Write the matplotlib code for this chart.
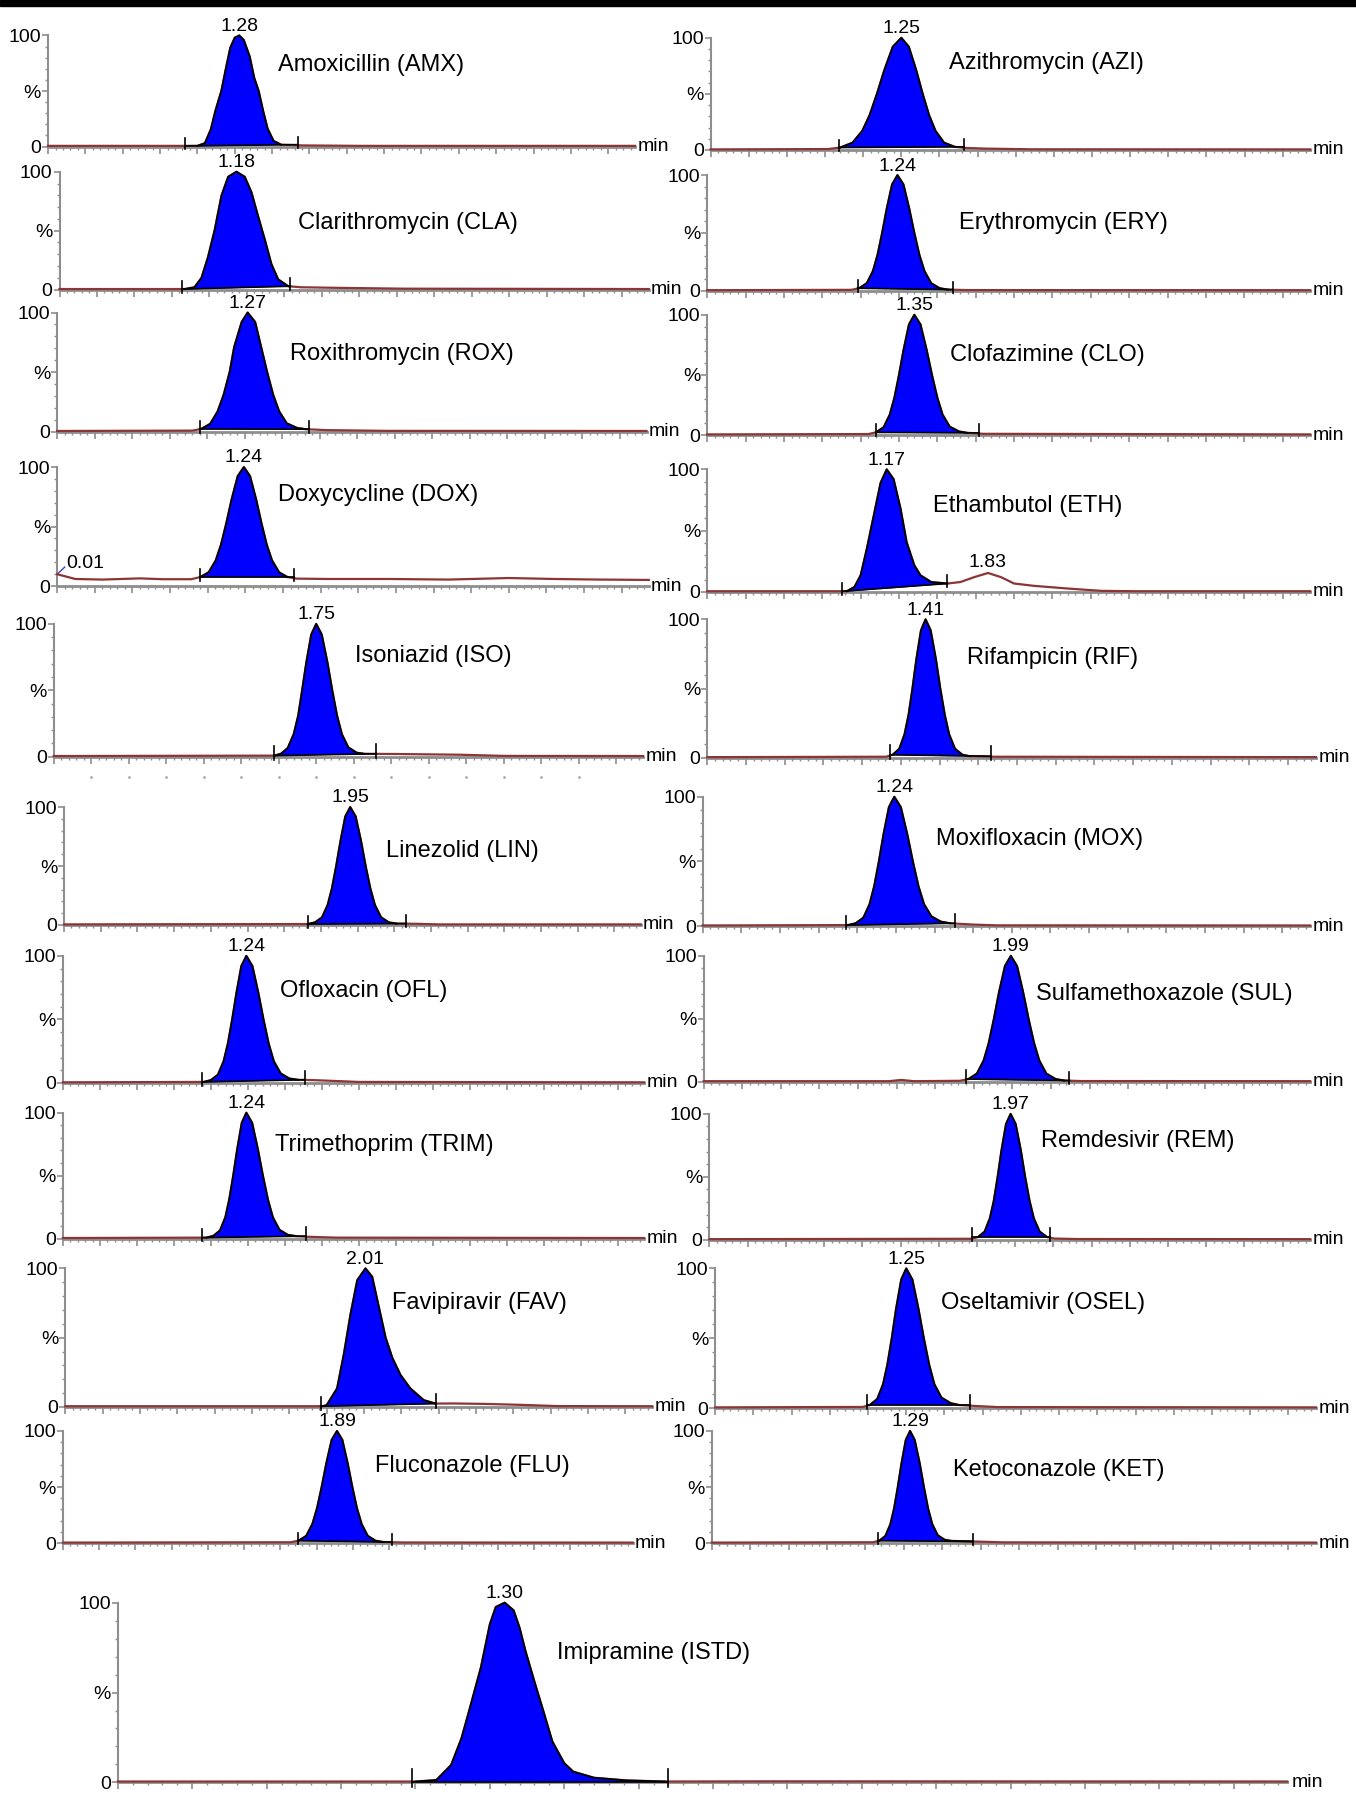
import matplotlib.pyplot as plt
from matplotlib.ticker import MultipleLocator
import numpy as np

plt.rcParams['font.family'] = ['Liberation Sans', 'DejaVu Sans']

# panel order: left / right pairs row by row, internal standard last
names = ['Amoxicillin (AMX)', 'Azithromycin (AZI)', 'Clarithromycin (CLA)', 'Erythromycin (ERY)',
         'Roxithromycin (ROX)', 'Clofazimine (CLO)', 'Doxycycline (DOX)', 'Ethambutol (ETH)',
         'Isoniazid (ISO)', 'Rifampicin (RIF)', 'Linezolid (LIN)', 'Moxifloxacin (MOX)',
         'Ofloxacin (OFL)', 'Sulfamethoxazole (SUL)', 'Trimethoprim (TRIM)', 'Remdesivir (REM)',
         'Favipiravir (FAV)', 'Oseltamivir (OSEL)', 'Fluconazole (FLU)', 'Ketoconazole (KET)',
         'Imipramine (ISTD)']
rts = [1.28, 1.25, 1.18, 1.24, 1.27, 1.35, 1.24, 1.17, 1.75, 1.41, 1.95,
       1.24, 1.24, 1.99, 1.24, 1.97, 2.01, 1.25, 1.89, 1.29, 1.30]
integ_start = [0.92, 0.84, 0.82, 0.98, 0.95, 1.10, 0.95, 0.88, 1.47, 1.18, 1.66,
               0.93, 0.94, 1.70, 0.94, 1.72, 1.71, 0.99, 1.62, 1.08, 0.99]
integ_end = [1.67, 1.66, 1.54, 1.60, 1.68, 1.77, 1.57, 1.565, 2.15, 1.83, 2.33,
             1.63, 1.635, 2.37, 1.64, 2.23, 2.48, 1.67, 2.27, 1.70, 1.85]

# traces: time (min) and relative intensity (%)
amx_t = [0, 1.00, 1.05, 1.09, 1.12, 1.16, 1.19, 1.22, 1.25, 1.28, 1.31, 1.35, 1.38, 1.41, 1.44,
         1.47, 1.51, 1.56, 1.70, 2.10, 3.93]
amx_y = [0.6, 0.6, 3, 15.6, 32, 50, 70, 89, 98, 100, 96, 81, 62, 50, 32, 16, 5, 1.7, 1.0, 0.6, 0.6]
azi_t = [0, 0.77, 0.85, 0.93, 0.994, 1.042, 1.09, 1.138, 1.194, 1.25, 1.299, 1.348, 1.39, 1.432,
         1.474, 1.53, 1.60, 1.67, 1.80, 2.10, 3.93]
azi_y = [0.5, 0.8, 2.2, 6.5, 17, 31, 50, 71, 92, 100, 92, 71, 50, 31, 17, 6.5, 2.8, 1.8, 1.2, 0.6, 0.5]
cla_t = [0, 0.835, 0.90, 0.947, 0.99, 1.035, 1.08, 1.125, 1.18, 1.235, 1.28, 1.325, 1.37, 1.413,
         1.458, 1.525, 1.61, 1.86, 2.30, 3.93]
cla_y = [0.5, 0.5, 2, 10, 27.5, 50.7, 79.7, 95.7, 100, 95.7, 82.6, 62, 42, 21.7, 8.7, 2.9, 2, 1.5, 0.8, 0.5]
ery_t = [0, 0.94, 0.99, 1.04, 1.08, 1.11, 1.14, 1.17, 1.205, 1.24, 1.279, 1.317, 1.35, 1.383,
         1.416, 1.46, 1.515, 1.57, 1.70, 3.93]
ery_y = [0.5, 0.8, 2.2, 6.5, 17, 31, 50, 71, 92, 100, 92, 71, 50, 31, 17, 6.5, 2.2, 1.0, 0.6, 0.5]
rox_t = [0, 0.90, 0.96, 1.02, 1.07, 1.11, 1.15, 1.18, 1.23, 1.27, 1.32, 1.36, 1.40, 1.44, 1.48,
         1.53, 1.60, 1.66, 1.80, 2.20, 3.93]
rox_y = [0.5, 0.8, 2.2, 6.5, 17, 31, 50, 71, 92, 100, 92, 71, 50, 31, 17, 7, 3, 2, 1.2, 0.6, 0.5]
clo_t = [0, 1.05, 1.10, 1.15, 1.19, 1.22, 1.25, 1.28, 1.315, 1.35, 1.39, 1.43, 1.465, 1.50,
         1.534, 1.58, 1.64, 1.695, 1.80, 3.93]
clo_y = [0.5, 0.8, 2.2, 6.5, 17, 31, 50, 71, 92, 100, 92, 71, 50, 31, 17, 7, 3, 1.8, 1.0, 0.5]
dox_t = [0, 0.12, 0.30, 0.55, 0.70, 0.89, 0.95, 1.006, 1.053, 1.088, 1.123, 1.158, 1.199, 1.24,
         1.281, 1.322, 1.357, 1.392, 1.427, 1.474, 1.53, 1.59, 1.80, 2.20, 2.60, 3.00, 3.30,
         3.60, 3.93]
dox_y = [10, 6, 5.5, 6.5, 5.8, 5.8, 7.6, 11.6, 21.6, 34.8, 52.8, 72.6, 92.4, 100, 92.4, 72.6,
         52.8, 34.8, 21.6, 11.6, 7.6, 6.3, 6, 6, 5.5, 6.8, 6, 5.5, 5.2]
eth_t = [0, 0.91, 0.96, 1.00, 1.04, 1.085, 1.13, 1.17, 1.215, 1.26, 1.30, 1.35, 1.39, 1.46,
         1.565, 1.65, 1.74, 1.83, 1.915, 2.00, 2.13, 2.35, 2.57, 2.79, 3.93]
eth_y = [0.5, 0.5, 4, 13.5, 35, 62, 89, 100, 92, 68, 40.5, 21.6, 13.5, 8, 6.8, 8, 12, 15.4,
         12, 6.8, 4.9, 2.7, 0.8, 0.5, 0.5]
iso_t = [0, 1.47, 1.515, 1.56, 1.60, 1.63, 1.656, 1.684, 1.717, 1.75, 1.787, 1.825, 1.857, 1.889,
         1.921, 1.964, 2.02, 2.07, 2.30, 2.70, 3.00, 3.93]
iso_y = [0.5, 0.8, 2.2, 6.5, 17, 31, 50, 71, 92, 100, 92, 71, 50, 31, 17, 7, 3, 2.2, 2, 1.5, 0.6, 0.5]
rif_t = [0, 1.155, 1.197, 1.24, 1.274, 1.30, 1.325, 1.35, 1.38, 1.41, 1.443, 1.477, 1.505, 1.534,
         1.562, 1.60, 1.648, 1.695, 1.85, 3.93]
rif_y = [0.5, 0.8, 2.2, 6.5, 17, 31, 50, 71, 92, 100, 92, 71, 50, 31, 17, 6.5, 2.2, 1.2, 0.8, 0.5]
lin_t = [0, 1.66, 1.71, 1.758, 1.796, 1.825, 1.854, 1.883, 1.916, 1.95, 1.987, 2.024, 2.055,
         2.087, 2.118, 2.16, 2.213, 2.265, 2.40, 2.55, 3.93]
lin_y = [0.5, 0.8, 2.2, 6.5, 17, 31, 50, 71, 92, 100, 92, 71, 50, 31, 17, 6.5, 2.2, 1.2, 1.0, 0.5, 0.5]
mox_t = [0, 0.94, 0.99, 1.04, 1.08, 1.11, 1.14, 1.17, 1.205, 1.24, 1.282, 1.324, 1.36, 1.396,
         1.432, 1.48, 1.54, 1.60, 1.75, 1.90, 3.93]
mox_y = [0.5, 0.8, 2.2, 6.5, 17, 31, 50, 71, 92, 100, 92, 71, 50, 31, 17, 7.5, 3.5, 2.2, 1.2, 0.6, 0.5]
ofl_t = [0, 0.95, 1.00, 1.048, 1.086, 1.115, 1.144, 1.173, 1.206, 1.24, 1.281, 1.321, 1.356,
         1.391, 1.426, 1.472, 1.53, 1.59, 1.70, 1.85, 2.00, 3.93]
ofl_y = [0.5, 0.8, 2.2, 6.5, 17, 31, 50, 71, 92, 100, 92, 71, 50, 31, 17, 7.5, 3.5, 2.5, 2.2,
         1.5, 0.8, 0.5]
sul_t = [0, 1.20, 1.28, 1.36, 1.66, 1.715, 1.77, 1.814, 1.847, 1.88, 1.913, 1.952, 1.99, 2.03,
         2.07, 2.105, 2.14, 2.174, 2.22, 2.28, 2.335, 2.45, 3.93]
sul_y = [0.5, 0.5, 1.5, 0.5, 0.8, 2.2, 6.5, 17, 31, 50, 71, 92, 100, 92, 71, 50, 31, 17, 6.5,
         2.2, 1.0, 0.6, 0.5]
trim_t = [0, 0.97, 1.017, 1.062, 1.098, 1.124, 1.151, 1.178, 1.209, 1.24, 1.279, 1.318, 1.352,
          1.386, 1.419, 1.464, 1.52, 1.576, 1.65, 1.85, 3.93]
trim_y = [0.5, 0.8, 2.2, 6.5, 17, 31, 50, 71, 92, 100, 92, 71, 50, 31, 17, 7, 3, 2, 1.5, 0.8, 0.5]
rem_t = [0, 1.715, 1.757, 1.80, 1.834, 1.86, 1.885, 1.91, 1.94, 1.97, 2.003, 2.037, 2.065, 2.094,
         2.122, 2.16, 2.208, 2.255, 2.40, 3.93]
rem_y = [0.5, 0.8, 2.2, 6.5, 17, 31, 50, 71, 92, 100, 92, 71, 50, 31, 17, 6.5, 2.2, 1.0, 0.6, 0.5]
fav_t = [0, 1.72, 1.75, 1.82, 1.865, 1.91, 1.955, 2.01, 2.055, 2.10, 2.145, 2.19, 2.245, 2.31,
         2.40, 2.48, 2.60, 2.80, 3.05, 3.30, 3.93]
fav_y = [0.5, 0.5, 1.2, 13.4, 38, 67, 91.5, 100, 94, 72, 50, 35.4, 23, 13.4, 4.9, 2.4, 2.5, 2.2,
         1.5, 0.6, 0.5]
osel_t = [0, 0.965, 1.012, 1.06, 1.098, 1.126, 1.155, 1.183, 1.217, 1.25, 1.29, 1.33, 1.365,
          1.40, 1.434, 1.48, 1.54, 1.595, 1.70, 1.85, 3.93]
osel_y = [0.5, 0.8, 2.2, 6.5, 17, 31, 50, 71, 92, 100, 92, 71, 50, 31, 17, 7.5, 3.5, 2.2, 1.5, 0.7, 0.5]
flu_t = [0, 1.57, 1.625, 1.678, 1.72, 1.752, 1.784, 1.816, 1.853, 1.89, 1.927, 1.964, 1.996,
         2.028, 2.06, 2.102, 2.155, 2.21, 2.35, 3.93]
flu_y = [0.5, 0.8, 2.2, 6.5, 17, 31, 50, 71, 92, 100, 92, 71, 50, 31, 17, 6.5, 2.2, 1.0, 0.6, 0.5]
ket_t = [0, 1.05, 1.09, 1.13, 1.162, 1.186, 1.21, 1.234, 1.262, 1.29, 1.32, 1.353, 1.38, 1.407,
         1.434, 1.47, 1.515, 1.56, 1.70, 1.90, 3.93]
ket_y = [0.5, 0.8, 2.2, 6.5, 17, 31, 50, 71, 92, 100, 92, 71, 50, 31, 17, 7, 3, 2, 1.5, 0.7, 0.5]
istd_t = [0, 1.00, 1.07, 1.12, 1.155, 1.18, 1.22, 1.25, 1.27, 1.30, 1.33, 1.35, 1.37, 1.40,
          1.43, 1.46, 1.50, 1.53, 1.60, 1.71, 1.84, 2.20, 3.93]
istd_y = [0.5, 0.5, 1.3, 9.7, 24.7, 39.6, 64, 88, 97.6, 100, 95.7, 86, 73, 56, 39.6, 22.8,
          10.7, 6, 2.6, 1.1, 0.5, 0.6, 0.5]

traces = [(amx_t, amx_y), (azi_t, azi_y), (cla_t, cla_y), (ery_t, ery_y), (rox_t, rox_y),
          (clo_t, clo_y), (dox_t, dox_y), (eth_t, eth_y), (iso_t, iso_y), (rif_t, rif_y),
          (lin_t, lin_y), (mox_t, mox_y), (ofl_t, ofl_y), (sul_t, sul_y), (trim_t, trim_y),
          (rem_t, rem_y), (fav_t, fav_y), (osel_t, osel_y), (flu_t, flu_y), (ket_t, ket_y),
          (istd_t, istd_y)]

# layout in reference pixels (1185 x 1568): axis left, axis right, 100-level, 0-level, name x, name y
W, H = 1185.0, 1568.0
layout = [
    (42, 555, 31, 128, 243, 57), (621, 1145, 33, 131, 829, 55),
    (52, 567, 150, 253, 260, 195), (618, 1145, 153, 254, 838, 195),
    (50, 565, 273, 377, 253, 309), (618, 1145, 275, 380, 830, 310),
    (50, 567, 408, 512, 243, 432), (618, 1145, 410, 517, 815, 442),
    (47, 562, 545, 661, 310, 573), (618, 1150, 541, 662, 845, 575),
    (56, 560, 705, 808, 337, 743), (614, 1145, 696, 809, 818, 733),
    (55, 563, 835, 946, 245, 866), (615, 1145, 835, 945, 905, 868),
    (55, 563, 972, 1082, 240, 1000), (620, 1145, 973, 1083, 910, 997),
    (57, 570, 1108, 1229, 343, 1138), (625, 1150, 1108, 1230, 822, 1138),
    (55, 553, 1250, 1348, 328, 1281), (622, 1150, 1250, 1348, 833, 1284),
    (103, 1125, 1400, 1557, 487, 1444),
]
XMAX = 3.93
grey = '#8e8e8e'
brown = '#8b3535'

fig = plt.figure(figsize=(13.56, 17.95), dpi=100)
fig.add_artist(plt.Rectangle((0, 1 - 6 / 1795), 1, 6 / 1795, transform=fig.transFigure,
                             color='black', zorder=10))

axes = []
for i, (l, r, top, bot, nx, ny) in enumerate(layout):
    ax = fig.add_axes([l / W, 1 - bot / H, (r - l) / W, (bot - top) / H])
    axes.append(ax)
    t = np.array(traces[i][0])
    y = np.array(traces[i][1])

    for s in ['top', 'right']:
        ax.spines[s].set_visible(False)
    ax.spines['left'].set_color(grey)
    ax.spines['left'].set_linewidth(1.5)
    ax.spines['bottom'].set_color(grey)
    ax.spines['bottom'].set_linewidth(2)
    ax.set_xlim(0, XMAX)
    ax.set_ylim(0, 100)
    ax.set_yticks([0, 50, 100])
    ax.set_yticklabels(['0', '%', '100'])
    ax.yaxis.set_minor_locator(MultipleLocator(10))
    ax.xaxis.set_major_locator(MultipleLocator(0.25))
    ax.xaxis.set_minor_locator(MultipleLocator(0.05))
    ax.tick_params(axis='y', which='major', length=4, width=1.2, color=grey, pad=1, labelsize=14)
    ax.tick_params(axis='y', which='minor', length=2.5, width=1, color=grey)
    ax.tick_params(axis='x', which='major', length=5, width=1.2, color=grey, labelbottom=False)
    ax.tick_params(axis='x', which='minor', length=2.5, width=1, color=grey)

    # whole trace
    ax.plot(t, y, color=brown, lw=1.6, clip_on=False, zorder=3)

    # integrated peak
    s0, e0 = integ_start[i], integ_end[i]
    win = (t >= s0) & (t <= e0)
    tw, yw = t[win], y[win]
    base = yw[0] + (yw[-1] - yw[0]) * (tw - tw[0]) / (tw[-1] - tw[0])
    ax.fill_between(tw, base, yw, color='#0000ff', lw=0, zorder=4, clip_on=False)
    ax.plot(tw, yw, color='black', lw=1.3, zorder=5, clip_on=False)
    ax.plot([s0, e0], [base[0], base[-1]], color='black', lw=1.2, zorder=5, clip_on=False)
    for xm, ym in [(s0, base[0]), (e0, base[-1])]:
        ax.plot([xm, xm], [ym - 3, ym + 7], color='black', lw=1.2, zorder=5, clip_on=False)

    ax.text(rts[i], 100.5, f'{rts[i]:.2f}', ha='center', va='bottom', fontsize=14)
    ax.text(1.004, 0, 'min', transform=ax.transAxes, ha='left', va='center', fontsize=14)
    fig.text(nx / W, 1 - ny / H, names[i], ha='left', va='center', fontsize=17)

# secondary peak in ethambutol trace and start marker in doxycycline trace
axes[7].text(1.83, 17, '1.83', ha='center', va='bottom', fontsize=14)
axes[6].text(0.06, 12, '0.01', ha='left', va='bottom', fontsize=14)
axes[6].plot([0.0, 0.05], [10, 16], color='#4040c0', lw=1, clip_on=False)

# faint row of dots below the isoniazid panel
axes[8].plot(np.arange(0.25, 3.6, 0.25), np.full(14, -15), ls='none', marker='.',
             ms=2, color='#aaaaaa', clip_on=False)

fig.savefig('out.png', dpi=100)
